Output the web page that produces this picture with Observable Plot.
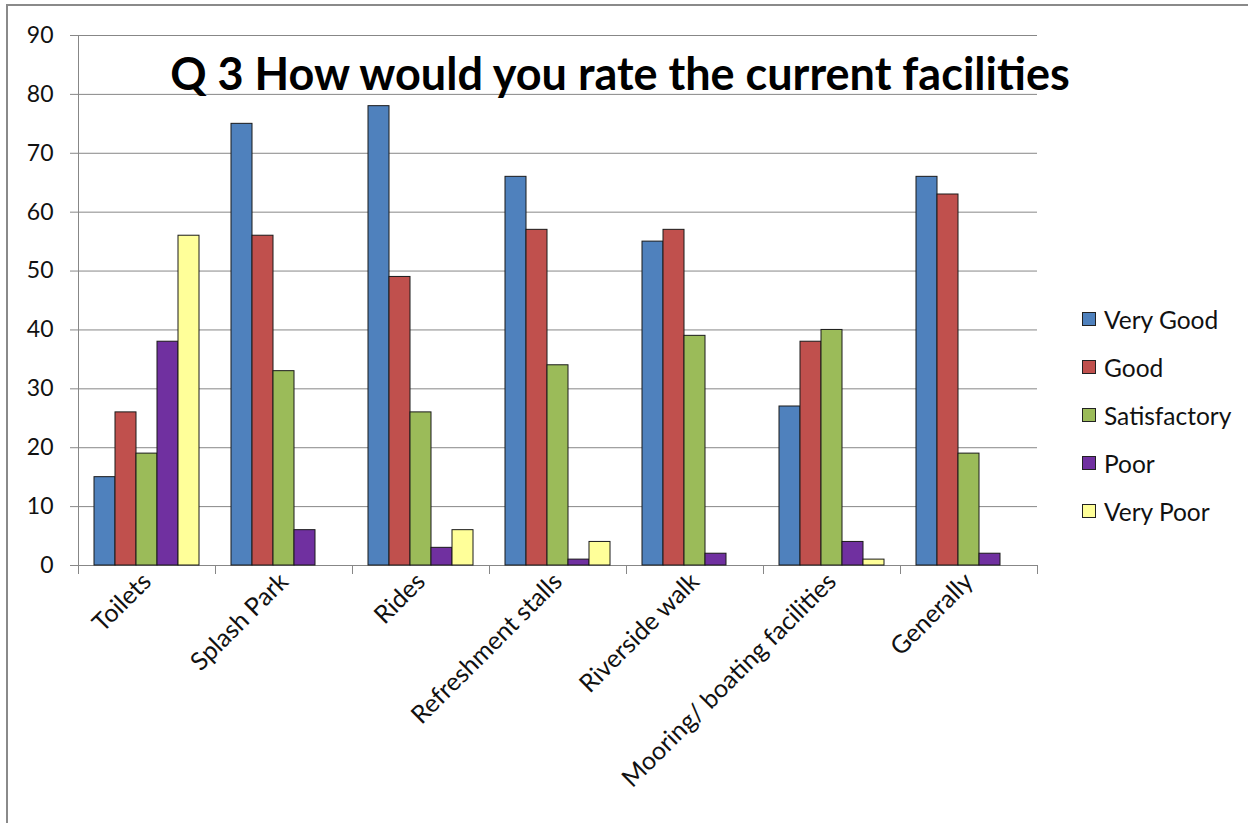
<!DOCTYPE html>
<html>
<head>
<meta charset="utf-8">
<script src="https://cdn.jsdelivr.net/npm/d3@7"></script>
<script src="https://cdn.jsdelivr.net/npm/@observablehq/plot@0.6"></script>
<style>
  html, body { margin: 0; padding: 0; background: #fff; overflow: hidden; }
  #wrap { position: relative; width: 1248px; height: 823px; font-family: Lato, "Open Sans", sans-serif; }
  #border { position: absolute; left: 6px; top: 4px; width: 1400px; height: 1000px; border: 2px solid #8a8a8a; }
  #chart { position: absolute; left: 0; top: 0; }
  #title { position: absolute; left: 0; width: 1240px; top: 46px; text-align: center; font-weight: bold; font-size: 45px; color: #000; white-space: nowrap; }
  #legend { position: absolute; left: 1082px; top: 306px; }
  .item { display: flex; align-items: center; height: 48px; margin: 0; font-size: 24.5px; color: #111; position: relative; top: -11px; }
  .sw { width: 12px; height: 12px; border: 1px solid #222; margin-right: 8px; }
</style>
</head>
<body>
<div id="wrap">
  <div id="border"></div>
  <div id="chart"></div>
  <div id="title"></div>
  <div id="legend"></div>
</div>
<script>
const titleText = "Q 3 How would you rate the current facilities";
const categories = ["Toilets", "Splash Park", "Rides", "Refreshment stalls", "Riverside walk", "Mooring/ boating facilities", "Generally"];
const series = ["Very Good", "Good", "Satisfactory", "Poor", "Very Poor"];
const colors = ["#4F81BD", "#C0504D", "#9BBB59", "#7030A0", "#FFFF99"];
const veryGood =     [15, 75, 78, 66, 55, 27, 66];
const good =         [26, 56, 49, 57, 57, 38, 63];
const satisfactory = [19, 33, 26, 34, 39, 40, 19];
const poor =         [38,  6,  3,  1,  2,  4,  2];
const veryPoor =     [56,  0,  6,  4,  0,  1,  0];
const yTicks = [0, 10, 20, 30, 40, 50, 60, 70, 80, 90];

const seriesValues = [veryGood, good, satisfactory, poor, veryPoor];
const data = categories.flatMap((c, i) => series.map((s, j) => ({category: c, series: s, value: seriesValues[j][i]})));

const gridColor = "#878787";

const chart = Plot.plot({
  width: 1248,
  height: 823,
  marginLeft: 76,
  marginRight: 210,
  marginTop: 35,
  marginBottom: 258,
  style: {fontFamily: "Lato, 'Open Sans', sans-serif", fontSize: "22px", color: "#111", background: "transparent"},
  fx: {domain: categories, padding: 0, label: null},
  x: {domain: series, paddingInner: 0, paddingOuter: 0.75, axis: null},
  y: {domain: [0, 90], label: null},
  color: {domain: series, range: colors},
  marks: [
    Plot.gridY(yTicks, {stroke: gridColor, strokeOpacity: 1, strokeWidth: 1}),
    Plot.axisY(yTicks, {tickSize: 8, tickPadding: 17, stroke: gridColor, fontSize: 23, label: null}),
    Plot.frame({anchor: "left", stroke: gridColor, facetAnchor: "left"}),
    Plot.frame({anchor: "left", stroke: gridColor, insetTop: 530, insetBottom: -8}),
    Plot.frame({anchor: "right", stroke: gridColor, insetTop: 530, insetBottom: -8}),
    Plot.barY(data.filter(d => d.value > 0), {fx: "category", x: "series", y: "value", fill: "series", stroke: "#1a1a1a", strokeWidth: 1}),
    Plot.axisFx({anchor: "bottom", tickRotate: -45, tickSize: 0, tickPadding: 12, fontSize: 25, label: null})
  ]
});
document.getElementById("chart").appendChild(chart);
document.getElementById("title").textContent = titleText;

const legend = document.getElementById("legend");
series.forEach((s, i) => {
  const row = document.createElement("div");
  row.className = "item";
  const sw = document.createElement("div");
  sw.className = "sw";
  sw.style.background = colors[i];
  const lab = document.createElement("span");
  lab.textContent = s;
  row.appendChild(sw);
  row.appendChild(lab);
  legend.appendChild(row);
});
</script>
</body>
</html>
